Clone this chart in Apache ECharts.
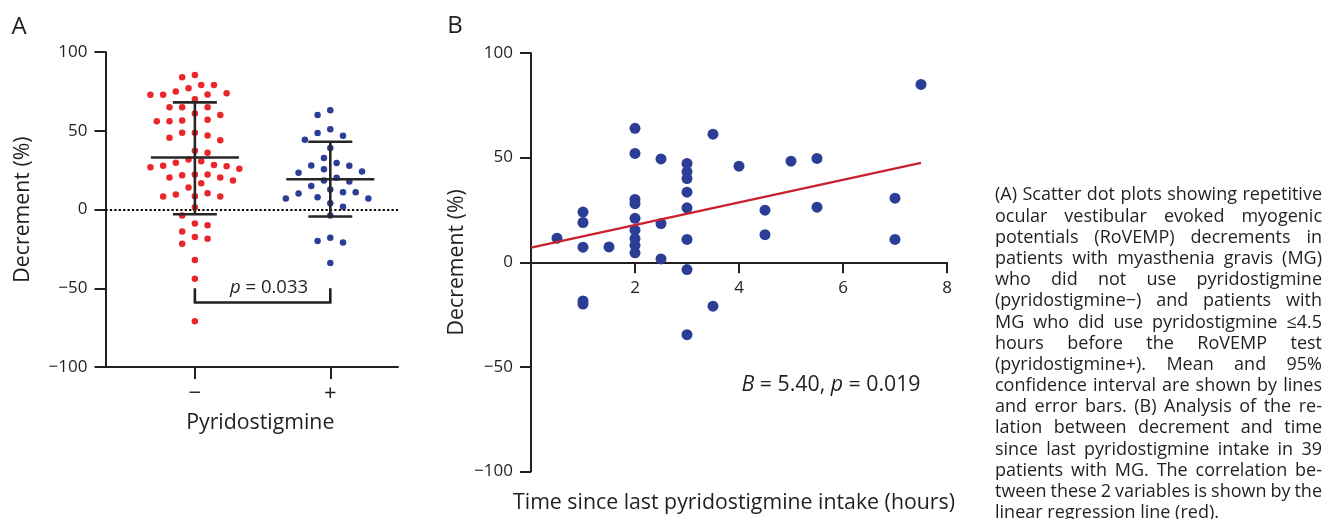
<!DOCTYPE html>
<html>
<head>
<meta charset="utf-8">
<script src="https://cdn.jsdelivr.net/npm/echarts@6/dist/echarts.min.js"></script>
<style>
html,body{margin:0;padding:0;background:#fff;overflow:hidden;}
#chart{position:absolute;left:0;top:0;width:1325px;height:519px;}
#caption{position:absolute;left:995px;top:183.4px;width:327px;font-family:'Open Sans',sans-serif;font-size:18px;line-height:21.2px;color:#231f20;}
#caption div{height:21.2px;white-space:nowrap;}
#caption span{white-space:nowrap;}
</style>
</head>
<body>
<div id="chart"></div>
<div id="caption"></div>
<script>
// ---------------- data ----------------
const groupLabels = ['\u2212', '+'];
const groupPositions = [1, 2];
// Panel A: decrement (%) per patient, pyridostigmine − group
const minusValues = [85.4, 84, 79, 79, 77, 75, 72.8, 72.8, 73.8, 73, 70, 65, 65, 65, 60, 61,
  56.5, 56, 57, 56, 48.7, 48.7, 44, 45.6, 47, 36, 37.3, 30.6, 31.8, 26.8, 27.8, 25.8, 27.4,
  28.3, 29.7, 22.3, 21.7, 20.3, 20.3, 22.3, 16.7, 18.4, 14, 10.3, 8.4, 8.2, 9.5, 8.2, 1.5,
  -3.8, -10, -8.9, -14, -18.6, -17.5, -21.7, -32, -44, -71];
// Panel A: pyridostigmine + group
const plusValues = [63, 60, 51, 48.5, 46.8, 44.3, 39, 32.7, 29.5, 28, 27.7, 25.5, 24.2, 23.4,
  20.2, 18.4, 17.7, 15, 12.7, 11, 11, 10.1, 7.8, 7, 7, 4, 1.7, -3.8, -18, -20, -21, -34];
// mean and 95% CI bars
const groupMean = [33, 19.2];
const groupLower = [-3, -4.4];
const groupUpper = [68, 43];
// significance bracket
const bracketTop = -50, bracketBottom = -59;
const pTextA = '{i|p} = 0.033';

// Panel B: time since last intake (hours) vs decrement (%)
const timeHours = [0.5, 1, 1, 1, 1, 1, 1.5, 2, 2, 2, 2, 2, 2, 2, 2, 2, 2.5, 2.5, 2.5,
  3, 3, 3, 3, 3, 3, 3, 3, 3.5, 3.5, 4, 4.5, 4.5, 5, 5.5, 5.5, 7, 7, 7.5];
const decrementB = [11.5, 24, 19, 7.2, -18.5, -20, 7.3, 64, 52, 30, 28, 21, 15.3, 11.3, 8.1, 4.5,
  49.4, 18.5, 1.6, 47.2, 43.2, 40, 33.5, 26, 10.9, -3.5, -34.6, 61.2, -21, 45.9, 24.9, 13.2,
  48.3, 49.6, 26.3, 30.6, 10.9, 85];
const regIntercept = 7.0, regSlope = 5.40;
const regRange = [0, 7.5];
const statTextB = '{i|B} = 5.40, {i|p} = 0.019';
const xTitleB = 'Time since last pyridostigmine intake (hours)';

const xTickValuesB = [2, 4, 6, 8];

const captionLines = [
  '(A) Scatter dot plots showing repetitive',
  'ocular vestibular evoked myogenic',
  'potentials (RoVEMP) decrements in',
  'patients with myasthenia gravis (MG)',
  'who did not use pyridostigmine',
  '(pyridostigmine\u2212) and patients with',
  'MG who did use pyridostigmine \u22644.5',
  'hours before the RoVEMP test',
  '(pyridostigmine+). Mean and 95%',
  'confidence interval are shown by lines',
  'and error bars. (B) Analysis of the re-',
  'lation between decrement and time',
  'since last pyridostigmine intake in 39',
  'patients with MG. The correlation be-',
  'tween these 2 variables is shown by the',
  'linear regression line (red).'
];

// ---------------- styles ----------------
const INK = '#231f20';
const RED = '#e8262b';
const BLUE = '#2c3d96';
const FONT = "'Open Sans', sans-serif";
const TITLE_SIZE = 21.3;
const CAPTION_WIDTH = 327;

// caption: justified lines (spaces stretched or squeezed to fill the column)
const cap = document.getElementById('caption');
captionLines.forEach((t, i) => {
  const d = document.createElement('div');
  const s = document.createElement('span');
  s.textContent = t;
  d.appendChild(s);
  cap.appendChild(d);
  if (i < captionLines.length - 1) {
    const nat = s.getBoundingClientRect().width;
    const nSp = (t.match(/ /g) || []).length;
    if (nSp > 0) s.style.wordSpacing = ((CAPTION_WIDTH - nat) / nSp) + 'px';
  }
});

const chart = echarts.init(document.getElementById('chart'), null, {renderer: 'canvas'});

const axisLineStyle = {show: true, onZero: false, lineStyle: {color: INK, width: 2}};
const negFmt = v => (v < 0 ? '\u2212' + Math.abs(v) : String(v));

const errData = groupPositions.map((x, i) => [x, groupMean[i], groupLower[i], groupUpper[i]]);

const option = {
  animation: false,
  textStyle: {fontFamily: FONT, color: INK},
  grid: [
    {left: 105.5, top: 52, width: 292.5, height: 315},
    {left: 531, top: 53, width: 416, height: 418.5}
  ],
  xAxis: [
    {
      gridIndex: 0, type: 'value', min: 0.34, max: 2.5,
      axisLine: axisLineStyle,
      axisTick: {show: true, length: 12, lineStyle: {color: INK, width: 2}, customValues: groupPositions},
      axisLabel: {show: true, customValues: groupPositions, fontSize: 22, color: INK, margin: 16,
        formatter: v => groupLabels[groupPositions.indexOf(Math.round(v))] || ''},
      splitLine: {show: false},
      name: 'Pyridostigmine', nameLocation: 'middle', nameGap: 45,
      nameTextStyle: {fontSize: TITLE_SIZE, color: INK, padding: [0, 0, 0, 17]}
    },
    {
      gridIndex: 1, type: 'value', min: 0, max: 8,
      axisLine: {show: true, onZero: true, lineStyle: {color: INK, width: 2}},
      axisTick: {show: true, length: 11, lineStyle: {color: INK, width: 2}, customValues: xTickValuesB},
      axisLabel: {show: false},
      splitLine: {show: false}
    }
  ],
  yAxis: [
    {
      gridIndex: 0, type: 'value', min: -100, max: 100, interval: 50,
      axisLine: axisLineStyle,
      axisTick: {show: true, length: 11, lineStyle: {color: INK, width: 2}},
      axisLabel: {fontSize: 17, color: INK, margin: 18, formatter: negFmt},
      splitLine: {show: false},
      name: 'Decrement (%)', nameLocation: 'middle', nameGap: 72, nameRotate: 90,
      nameTextStyle: {fontSize: TITLE_SIZE, color: INK}
    },
    {
      gridIndex: 1, type: 'value', min: -100, max: 100, interval: 50,
      axisLine: axisLineStyle,
      axisTick: {show: true, length: 11, lineStyle: {color: INK, width: 2}},
      axisLabel: {fontSize: 17, color: INK, margin: 18, formatter: negFmt},
      splitLine: {show: false},
      name: 'Decrement (%)', nameLocation: 'middle', nameGap: 64, nameRotate: 90,
      nameTextStyle: {fontSize: TITLE_SIZE, color: INK}
    }
  ],
  series: [
    {
      id: 'minus', type: 'scatter', xAxisIndex: 0, yAxisIndex: 0,
      symbolSize: 6.5, itemStyle: {color: RED, opacity: 1},
      data: minusValues.map(v => [groupPositions[0], v]), z: 3,
      markLine: {
        silent: true, symbol: ['none', 'none'], label: {show: false},
        lineStyle: {color: '#000', width: 2.2, type: [2.2, 2.2]},
        data: [{yAxis: 0}]
      }
    },
    {
      id: 'plus', type: 'scatter', xAxisIndex: 0, yAxisIndex: 0,
      symbolSize: 6.5, itemStyle: {color: BLUE, opacity: 1},
      data: plusValues.map(v => [groupPositions[1], v]), z: 3
    },
    {
      type: 'custom', xAxisIndex: 0, yAxisIndex: 0, z: 5, clip: false,
      data: errData,
      renderItem: (params, api) => {
        const x = api.value(0);
        const c = api.coord([x, api.value(1)]);
        const lo = api.coord([x, api.value(2)]);
        const hi = api.coord([x, api.value(3)]);
        const W = 44, C = 22;
        const style = {stroke: '#262626', lineWidth: 2.6};
        return {type: 'group', children: [
          {type: 'line', shape: {x1: c[0] - W, y1: c[1], x2: c[0] + W, y2: c[1]}, style},
          {type: 'line', shape: {x1: c[0], y1: hi[1], x2: c[0], y2: lo[1]}, style},
          {type: 'line', shape: {x1: c[0] - C, y1: hi[1], x2: c[0] + C, y2: hi[1]}, style},
          {type: 'line', shape: {x1: c[0] - C, y1: lo[1], x2: c[0] + C, y2: lo[1]}, style}
        ]};
      }
    },
    {
      type: 'custom', xAxisIndex: 0, yAxisIndex: 0, z: 5, clip: false,
      data: [[groupPositions[0], groupPositions[1], bracketTop, bracketBottom]],
      renderItem: (params, api) => {
        const a = api.coord([api.value(0), api.value(2)]);
        const b = api.coord([api.value(0), api.value(3)]);
        const c = api.coord([api.value(1), api.value(3)]);
        const d = api.coord([api.value(1), api.value(2)]);
        return {type: 'group', children: [
          {type: 'polyline', shape: {points: [a, b, c, d]},
            style: {stroke: INK, lineWidth: 2.6, fill: null}},
          {type: 'text', x: (b[0] + c[0]) / 2 + 6.5, y: b[1] - 15,
            style: {text: pTextA, fontSize: 18.5, fontFamily: FONT, fill: INK,
              align: 'center', verticalAlign: 'middle',
              rich: {i: {fontStyle: 'italic', fontSize: 18.5, fontFamily: FONT, fill: INK}}}}
        ]};
      }
    },
    {
      type: 'scatter', xAxisIndex: 1, yAxisIndex: 1,
      symbolSize: 11, itemStyle: {color: BLUE, opacity: 1}, z: 3,
      data: timeHours.map((t, i) => [t, decrementB[i]])
    },
    {
      type: 'line', xAxisIndex: 1, yAxisIndex: 1, symbol: 'none', z: 4,
      lineStyle: {color: '#c8202f', width: 2.4},
      data: regRange.map(t => [t, regIntercept + regSlope * t])
    },
    {
      // tick labels of panel B's x axis, which sits on y = 0
      type: 'custom', xAxisIndex: 1, yAxisIndex: 1, z: 5, clip: false, silent: true,
      data: xTickValuesB.map(v => [v, 0]),
      renderItem: (params, api) => {
        const p = api.coord([api.value(0), api.value(1)]);
        return {type: 'text', x: p[0], y: p[1] + 25.5,
          style: {text: String(api.value(0)), fontSize: 17, fontFamily: FONT, fill: INK,
            align: 'center', verticalAlign: 'middle'}};
      }
    }
  ],
  graphic: [
    {type: 'text', x: 19, y: 27, style: {text: 'A', fontSize: 24, fontFamily: FONT, fill: INK, align: 'center', verticalAlign: 'middle'}},
    {type: 'text', x: 455, y: 26, style: {text: 'B', fontSize: 24, fontFamily: FONT, fill: INK, align: 'center', verticalAlign: 'middle'}},
    {type: 'text', x: 831, y: 385, style: {text: statTextB, fontSize: TITLE_SIZE, fontFamily: FONT, fill: INK,
      align: 'center', verticalAlign: 'middle',
      rich: {i: {fontStyle: 'italic', fontSize: TITLE_SIZE, fontFamily: FONT, fill: INK}}}},
    {type: 'text', x: 734, y: 503, style: {text: xTitleB, fontSize: TITLE_SIZE, fontFamily: FONT, fill: INK,
      align: 'center', verticalAlign: 'middle'}}
  ]
};

chart.setOption(option);

// beeswarm layout of the dot plots (offsets computed from the data through the axis scales)
function swarm(values, center) {
  const finder = {gridIndex: 0};
  const cx = chart.convertToPixel(finder, [center, 0])[0];
  const pts = values.map(v => ({v: v, py: chart.convertToPixel(finder, [center, v])[1], px: cx}));
  const order = pts.slice().sort((a, b) => b.v - a.v);
  const placed = [];
  const step = 6.35, minD = 10.6;
  order.forEach((p, idx) => {
    const sign = idx % 2 === 0 ? 1 : -1;
    for (let k = 0; k < 60; k++) {
      const off = k === 0 ? 0 : (k % 2 === 1 ? sign : -sign) * Math.ceil(k / 2) * step;
      const px = cx + off;
      if (placed.every(q => Math.hypot(q.px - px, q.py - p.py) >= minD)) {
        p.px = px; placed.push(p); break;
      }
    }
  });
  return pts.map(p => [chart.convertFromPixel(finder, [p.px, p.py])[0], p.v]);
}

chart.setOption({series: [
  {id: 'minus', data: swarm(minusValues, groupPositions[0])},
  {id: 'plus', data: swarm(plusValues, groupPositions[1])}
]});
</script>
</body>
</html>
